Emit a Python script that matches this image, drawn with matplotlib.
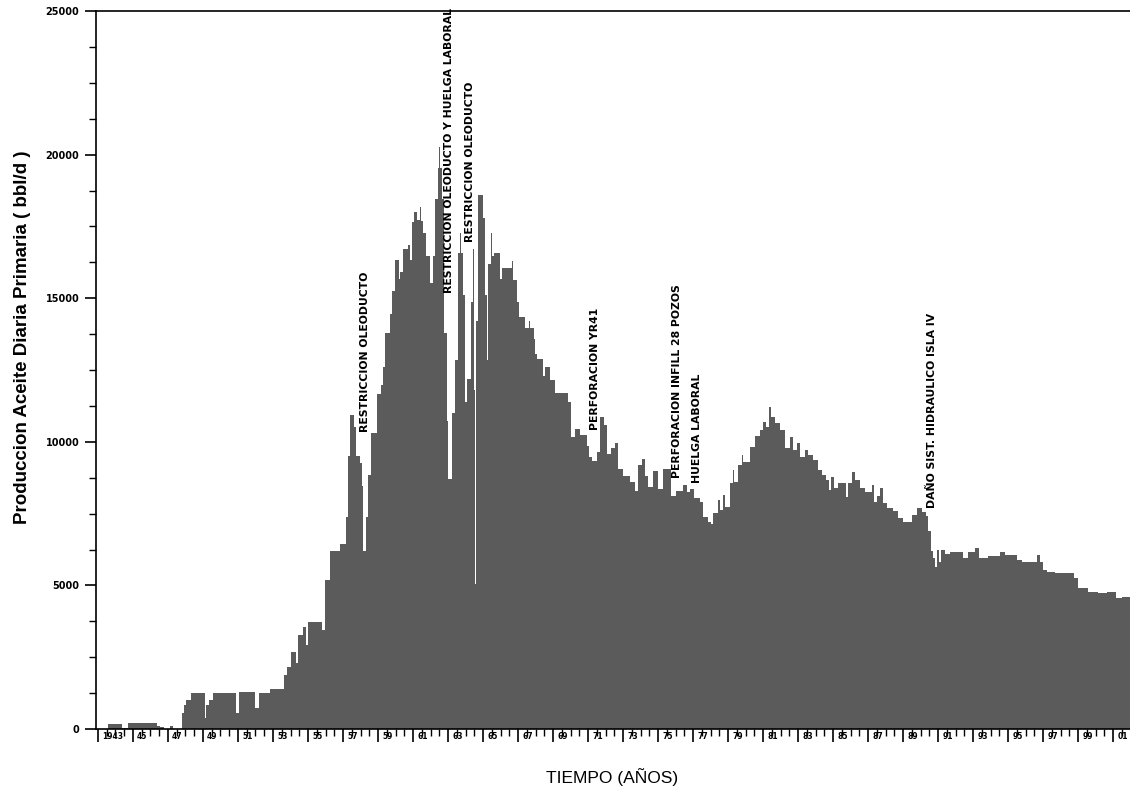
import matplotlib
matplotlib.use("Agg")
import matplotlib.pyplot as plt
from matplotlib.ticker import MultipleLocator, FixedLocator
import matplotlib.transforms as mtransforms

# ---- data ----
years = [1942.9, 1943.55, 1944.4, 1944.7, 1946.35, 1946.55, 1946.8, 1947.1, 1947.3,
         1947.78, 1947.9, 1948.05, 1948.3, 1949.1, 1949.2, 1949.35, 1949.6, 1950.9,
         1951.05, 1951.95, 1952.2, 1952.8, 1953.6, 1953.8, 1954.0, 1954.3, 1954.43,
         1954.7, 1954.87, 1955.0, 1955.8, 1955.97, 1956.25, 1956.8, 1957.15, 1957.28,
         1957.4, 1957.62, 1957.74, 1957.97, 1958.07, 1958.14, 1958.3, 1958.43, 1958.6,
         1958.94, 1959.17, 1959.29, 1959.4, 1959.69, 1959.8, 1959.97, 1960.2, 1960.26,
         1960.43, 1960.71, 1960.83, 1960.94, 1961.06, 1961.23, 1961.4, 1961.48, 1961.57,
         1961.74, 1961.97, 1962.14, 1962.26, 1962.43, 1962.49, 1962.55, 1962.66, 1962.77,
         1962.92, 1962.96, 1963.0, 1963.2, 1963.4, 1963.57, 1963.66, 1963.72, 1963.86,
         1963.97, 1964.09, 1964.29, 1964.4, 1964.46, 1964.55, 1964.6, 1964.74, 1965.0,
         1965.11, 1965.22, 1965.3, 1965.43, 1965.49, 1965.63, 1965.97, 1966.09, 1966.66,
         1966.74, 1966.94, 1967.03, 1967.4, 1967.6, 1967.7, 1967.89, 1967.97, 1968.09,
         1968.43, 1968.54, 1968.83, 1969.11, 1969.86, 1970.03, 1970.26, 1970.54, 1970.94,
         1971.06, 1971.23, 1971.51, 1971.69, 1971.91, 1972.09, 1972.31, 1972.54, 1972.71,
         1973.0, 1973.4, 1973.69, 1973.86, 1974.09, 1974.26, 1974.43, 1974.71, 1975.0,
         1975.29, 1975.74, 1976.03, 1976.43, 1976.66, 1976.83, 1977.06, 1977.4, 1977.57,
         1977.86, 1978.03, 1978.14, 1978.43, 1978.54, 1978.73, 1978.8, 1979.11, 1979.26,
         1979.34, 1979.57, 1979.78, 1979.86, 1980.26, 1980.54, 1980.83, 1980.98, 1981.17,
         1981.34, 1981.46, 1981.69, 1981.97, 1982.26, 1982.54, 1982.71, 1982.97, 1983.11,
         1983.4, 1983.57, 1983.86, 1984.14, 1984.37, 1984.6, 1984.77, 1984.89, 1985.06,
         1985.29, 1985.74, 1985.86, 1986.07, 1986.26, 1986.54, 1986.83, 1987.23, 1987.34,
         1987.51, 1987.69, 1987.86, 1988.09, 1988.43, 1988.71, 1989.0, 1989.51, 1989.8,
         1990.09, 1990.31, 1990.43, 1990.6, 1990.71, 1990.83, 1990.94, 1991.06, 1991.17,
         1991.4, 1991.69, 1992.43, 1992.71, 1993.11, 1993.34, 1993.86, 1994.54, 1994.83,
         1995.51, 1995.8, 1996.66, 1996.83, 1997.0, 1997.23, 1997.69, 1998.77, 1999.0,
         1999.57, 2000.14, 2000.66, 2001.17, 2001.51, 2002.0]

rate = [0, 170, 30, 200, 100, 70, 0, 90, 0,
        560, 840, 1010, 1250, 380, 850, 1000, 1250, 550,
        1280, 730, 1250, 1400, 1880, 2160, 2680, 2300, 3270,
        3550, 2920, 3720, 3450, 5190, 6200, 6440, 7380, 9520,
        10930, 10500, 9500, 9250, 8460, 6200, 7380, 8840, 10300,
        11660, 11970, 12590, 13790, 14450, 15250, 16330, 15670, 15910,
        16710, 16850, 16330, 17650, 18000, 17720, 18190, 17700, 17270,
        16470, 15530, 16470, 18450, 19530, 20260, 19530, 18450, 13790,
        11800, 10720, 8710, 10990, 12850, 16590, 17270, 16590, 15120,
        11390, 12190, 14870, 16710, 11800, 5050, 14190, 18590, 17800,
        15120, 12850, 16190, 17270, 16470, 16590, 15670, 16050, 16300,
        15650, 14870, 14360, 13960, 14200, 13960, 13580, 13060, 12880,
        12300, 12620, 12150, 11710, 11390, 10170, 10430, 10240, 9850,
        9470, 9330, 9650, 10870, 10600, 9590, 9800, 9970, 9070,
        8810, 8600, 8300, 9190, 9400, 8800, 8430, 9000, 8360,
        9070, 8110, 8300, 8500, 8250, 8360, 8040, 7900, 7390,
        7200, 7140, 7520, 7970, 7630, 8150, 7740, 8560, 9020,
        8610, 9190, 9540, 9310, 9830, 10200, 10410, 10700, 10500,
        11220, 10870, 10650, 10410, 9780, 10180, 9710, 9950, 9480,
        9700, 9540, 9360, 9020, 8840, 8670, 8320, 8780, 8390,
        8560, 8090, 8560, 8960, 8670, 8390, 8260, 8500, 7910,
        8100, 8390, 7870, 7700, 7600, 7350, 7220, 7450, 7700,
        7570, 7400, 6900, 6200, 5950, 5640, 6230, 5830, 6230,
        6110, 6170, 5950, 6170, 6300, 5950, 6020, 6170, 6060,
        5880, 5830, 6060, 5830, 5540, 5480, 5440, 5260, 4910,
        4780, 4730, 4760, 4560, 4600, 4600]

tick_years = list(range(1943, 2002, 2))
tick_labels = ["1943"] + [f"{y % 100:02d}" for y in tick_years[1:]]

events = ["RESTRICCION OLEODUCTO",
          "RESTRICCION OLEODUCTO Y HUELGA LABORAL",
          "RESTRICCION OLEODUCTO",
          "PERFORACION YR41",
          "PERFORACION INFILL 28 POZOS",
          "HUELGA LABORAL",
          "DAÑO SIST. HIDRAULICO ISLA IV"]
event_years = [1958.26, 1963.06, 1964.26, 1971.4, 1976.09, 1977.23, 1990.66]
event_base = [10340, 15180, 16960, 10410, 8740, 8570, 7700]

# ---- figure ----
fig = plt.figure(figsize=(11.3, 7.91), dpi=100)
ax = fig.add_axes([96 / 1130, 62 / 791, 1034 / 1130, 718 / 791])

ax.fill_between(years, rate, 0, step="post", color="#5b5b5b", linewidth=0)

ax.set_xlim(1942.886, 2001.97)
ax.set_ylim(0, 25000)

for sp in ["left", "bottom", "top"]:
    ax.spines[sp].set_linewidth(1.2)
    ax.spines[sp].set_color("black")
ax.spines["right"].set_visible(False)

# y ticks
ax.yaxis.set_major_locator(MultipleLocator(5000))
ax.yaxis.set_minor_locator(MultipleLocator(1250))
ax.tick_params(axis="y", which="major", direction="out", length=8, width=1.2,
               labelsize=7, pad=4)
ax.tick_params(axis="y", which="minor", direction="out", length=5, width=1.0)
for lab in ax.get_yticklabels():
    lab.set_fontweight("bold")

# x ticks
ax.xaxis.set_major_locator(FixedLocator(tick_years))
ax.set_xticklabels(tick_labels, fontsize=5.5, fontweight="bold", ha="left")
ax.xaxis.set_minor_locator(MultipleLocator(0.5))
ax.tick_params(axis="x", which="major", direction="out", length=9, width=1.2, pad=-7)
ax.tick_params(axis="x", which="minor", direction="out", length=5, width=1.0)
offset = mtransforms.ScaledTranslation(3 / 72, 0, fig.dpi_scale_trans)
for lab in ax.get_xticklabels():
    lab.set_transform(lab.get_transform() + offset)

ax.set_ylabel("Produccion Aceite Diaria Primaria ( bbl/d )", fontsize=13.5,
              fontweight="bold", family="Liberation Sans")
ax.yaxis.set_label_coords(-0.063, 0.546)
ax.set_xlabel("TIEMPO (AÑOS)", fontsize=12.5, family="Liberation Sans")
ax.xaxis.set_label_coords(0.499, -0.054)

for txt, ex, eb in zip(events, event_years, event_base):
    ax.text(ex, eb, txt, rotation=90, ha="center", va="bottom",
            fontsize=7.8, fontweight="bold", family="DejaVu Sans")

fig.savefig("out.png", dpi=100, facecolor="white")
